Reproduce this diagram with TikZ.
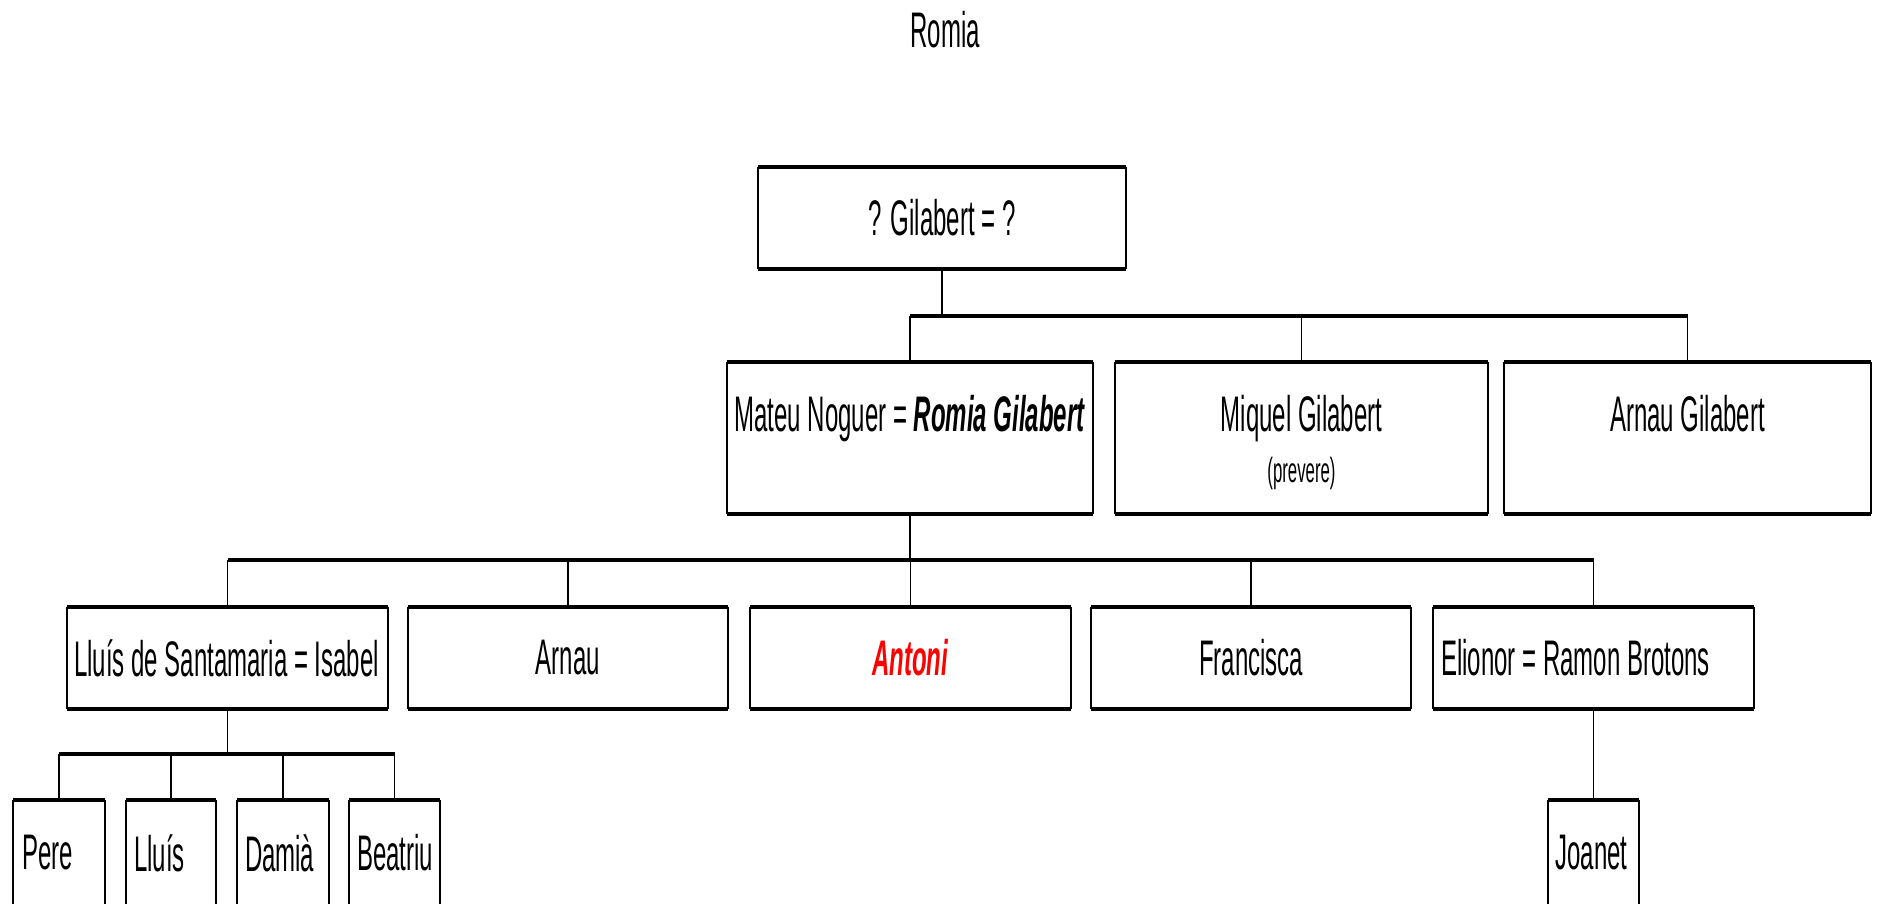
\documentclass[tikz,border=0pt]{standalone}
\usepackage{fontspec}
\setmainfont{Liberation Sans}[FakeStretch=0.48]
\newcommand\nm{\fontsize{50}{56}\selectfont}
\newcommand\smf{\fontsize{35}{40}\selectfont}
\newcommand\lft[2]{\makebox[#1pt][l]{#2}}
\newcommand\famframe[1]{%
  \draw[boxside] (#1.north west) -- (#1.south west) (#1.north east) -- (#1.south east);
  \draw[boxedge] (#1.north west) -- (#1.north east) (#1.south west) -- (#1.south east);}
\tikzset{
  fam/.style={rectangle, inner sep=0pt, font=\nm, align=center},
  boxside/.style={line width=1.8pt, black},
  boxedge/.style={line width=4pt, black},
  drop/.style={line width=1.8pt, black},
  bar/.style={line width=3.5pt, black},
}
\begin{document}
\begin{tikzpicture}[x=1pt, y=-1pt]
\path[use as bounding box] (0,0) rectangle (1881,903);
\clip (0,0) rectangle (1881,903);

\node[font=\nm] (title) at (945,30) {Romia};

% level 1
\node[fam, minimum width=368, minimum height=101] (root) at (942,218) {? Gilabert = ?};

% level 2
\node[fam, minimum width=366, minimum height=152] (mateu) at (910,438)
  {\rule{0pt}{46pt}Mateu Noguer = \textbf{\textit{Romia Gilabert}}\\[-5pt]{\smf\phantom{(prevere)}}};
\node[fam, minimum width=373, minimum height=152] (miquel) at (1301.5,438)
  {\rule{0pt}{46pt}Miquel Gilabert\\[-5pt]{\smf (prevere)}};
\node[fam, minimum width=367, minimum height=152] (arnaug) at (1687.5,438)
  {\rule{0pt}{46pt}Arnau Gilabert\\[-5pt]{\smf\phantom{(prevere)}}};

% level 3
\node[fam, minimum width=321, minimum height=102] (lluis) at (227.5,658)
  {\lft{307}{Lluís de Santamaria = Isabel}};
\node[fam, minimum width=320, minimum height=102] (arnau) at (568,658) {Arnau};
\node[fam, minimum width=321, minimum height=102] (antoni) at (910.5,658)
  {\textcolor{red}{\textbf{\textit{Antoni}}}};
\node[fam, minimum width=320, minimum height=102] (francisca) at (1251,658) {Francisca};
\node[fam, minimum width=321, minimum height=102] (elionor) at (1593.5,658)
  {\lft{305}{Elionor = Ramon Brotons}};

% level 4
\node[fam, minimum width=92, minimum height=106] (pere) at (59,853) {\lft{74}{Pere}};
\node[fam, minimum width=90, minimum height=106] (lluisf) at (171,853) {\lft{74}{Lluís}};
\node[fam, minimum width=92, minimum height=106] (damia) at (283,853) {\lft{76}{Damià}};
\node[fam, minimum width=91, minimum height=106] (beatriu) at (394.5,853) {\lft{75}{Beatriu}};
\node[fam, minimum width=90, minimum height=106] (joanet) at (1593.5,853) {\lft{76}{Joanet}};

\foreach \n in {root,mateu,miquel,arnaug,lluis,arnau,antoni,francisca,elionor,pere,lluisf,damia,beatriu,joanet}
  {\famframe{\n}}

\coordinate (ya) at (0,316);
\coordinate (yb) at (0,560);
\coordinate (yc) at (0,754);

% connectors level 1 -> 2
\draw[drop] (root.south) -- (root.south |- ya);
\draw[bar] (mateu.north |- ya) -- (arnaug.north |- ya);
\foreach \n in {mateu,miquel,arnaug}
  {\draw[drop] (\n.north |- ya) -- (\n.north);}

% level 2 -> 3
\draw[drop] (mateu.south) -- (mateu.south |- yb);
\draw[bar] (lluis.north |- yb) -- (elionor.north |- yb);
\foreach \n in {lluis,arnau,antoni,francisca,elionor}
  {\draw[drop] (\n.north |- yb) -- (\n.north);}

% level 3 -> 4
\draw[drop] (lluis.south) -- (lluis.south |- yc);
\draw[bar] (pere.north |- yc) -- (beatriu.north |- yc);
\foreach \n in {pere,lluisf,damia,beatriu}
  {\draw[drop] (\n.north |- yc) -- (\n.north);}
\draw[drop] (elionor.south) -- (joanet.north);
\end{tikzpicture}
\end{document}
